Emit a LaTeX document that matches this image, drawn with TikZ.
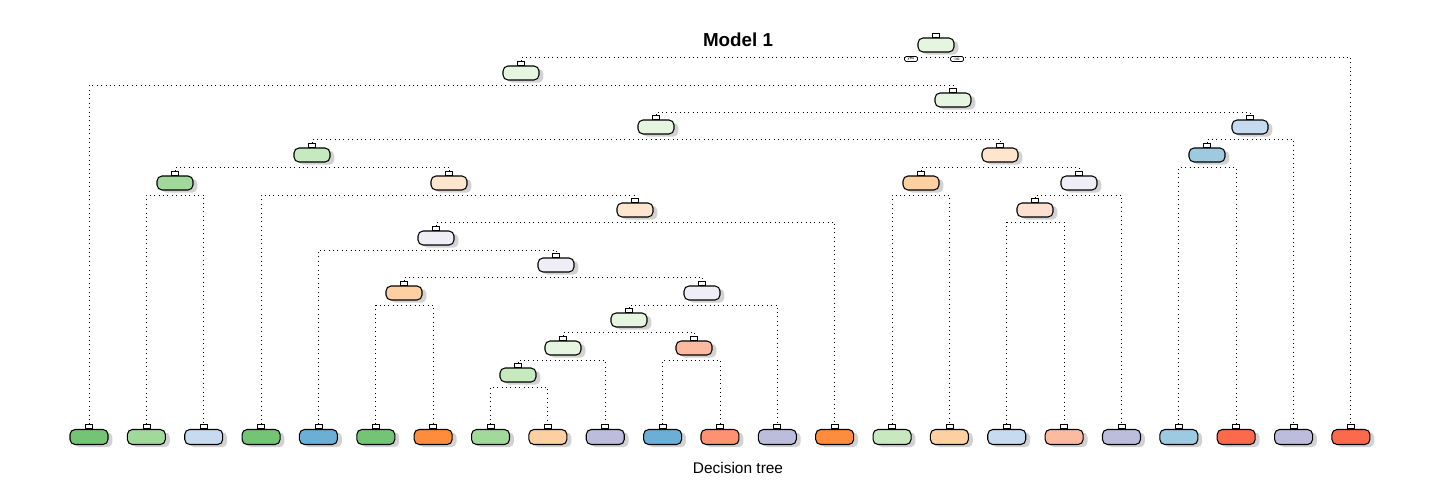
\documentclass[tikz,border=0pt]{standalone}
\usepackage{fontspec}
\setmainfont{Liberation Sans}
\usetikzlibrary{positioning,shadows}

\definecolor{grnA}{HTML}{74C476}
\definecolor{grnB}{HTML}{A1D99B}
\definecolor{grnC}{HTML}{C7E9C0}
\definecolor{grnD}{HTML}{E5F5E0}
\definecolor{bluA}{HTML}{6BAED6}
\definecolor{bluB}{HTML}{9ECAE1}
\definecolor{bluC}{HTML}{C6DBEF}
\definecolor{orgA}{HTML}{FD8D3C}
\definecolor{orgB}{HTML}{FDD0A2}
\definecolor{orgD}{HTML}{FEE6CE}
\definecolor{redA}{HTML}{FB6A4A}
\definecolor{redB}{HTML}{FC9272}
\definecolor{redC}{HTML}{FCBBA1}
\definecolor{redD}{HTML}{FEE0D2}
\definecolor{purA}{HTML}{BCBDDC}
\definecolor{purD}{HTML}{EFEDF5}

\tikzset{
  treebox/.style={draw, line width=0.6pt, rounded corners=0.1cm,
    minimum width=0.72cm, minimum height=0.28cm, inner sep=0pt,
    drop shadow={shadow xshift=2.5pt, shadow yshift=-1.5pt, fill=black!35}},
  leafbox/.style={treebox, minimum width=0.76cm, minimum height=0.3cm},
  tagbox/.style={draw, fill=white, line width=0.4pt,
    minimum width=0.14cm, minimum height=0.08cm, inner sep=0pt},
  link/.style={dotted, line width=0.5pt},
  answer/.style={draw, fill=white, line width=0.4pt, rounded corners=0.03cm,
    minimum width=0.26cm, minimum height=0.1cm, inner sep=0pt,
    font=\fontsize{2.5}{3}\selectfont}
}

% node with its number tag and the point where its split line runs
\newcommand{\splitnode}[5]{%
  \node[#5, fill=#4] (#1) at (#2,#3) {};
  \node[tagbox, above=0pt of #1] (#1t) {};
  \coordinate (#1s) at ([yshift=-0.24cm]#1.center);
}

\begin{document}
\begin{tikzpicture}[x=0.02cm,y=-0.02cm]
\useasboundingbox (0,0) rectangle (1440,480);

\node[font=\bfseries\fontsize{10.7}{12}\selectfont] (title) at (738,40) {Model 1};
\node[font=\fontsize{8.8}{10}\selectfont] (caption) at (738,468) {Decision tree};

% inner nodes
\splitnode{root}{936}{45}{grnD}{treebox}
\splitnode{A}{521}{73}{grnD}{treebox}
\splitnode{B}{953}{100}{grnD}{treebox}
\splitnode{C}{656}{127}{grnD}{treebox}
\splitnode{D}{1250}{127}{bluC}{treebox}
\splitnode{E}{312}{155}{grnC}{treebox}
\splitnode{F}{1000}{155}{orgD}{treebox}
\splitnode{G}{1207}{155}{bluB}{treebox}
\splitnode{H}{175}{183}{grnB}{treebox}
\splitnode{I}{449}{183}{orgD}{treebox}
\splitnode{J}{921}{183}{orgB}{treebox}
\splitnode{K}{1079}{183}{purD}{treebox}
\splitnode{L}{635}{210}{orgD}{treebox}
\splitnode{M}{1035}{210}{redD}{treebox}
\splitnode{N}{436}{238}{purD}{treebox}
\splitnode{O}{556}{265}{purD}{treebox}
\splitnode{P}{404}{293}{orgB}{treebox}
\splitnode{Q}{702}{293}{purD}{treebox}
\splitnode{R}{629}{320}{grnD}{treebox}
\splitnode{S}{563}{348}{grnD}{treebox}
\splitnode{T}{694}{348}{redC}{treebox}
\splitnode{U}{518}{375}{grnC}{treebox}

% leaves
\foreach \c [count=\i] in {grnA,grnB,bluC,grnA,bluA,grnA,orgA,grnB,orgB,purA,bluA,redB,
                           purA,orgA,grnC,orgB,bluC,redC,purA,bluB,redA,purA,redA}{
  \pgfmathsetmacro\lx{89+(\i-1)*57.36}
  \splitnode{lf\i}{\lx}{437}{\c}{leafbox}
}

% splits
\draw[link] (At.north) |- (roots) -| (lf23t.north);
\draw[link] (lf1t.north) |- (As) -| (Bt.north);
\draw[link] (Ct.north) |- (Bs) -| (Dt.north);
\draw[link] (Et.north) |- (Cs) -| (Ft.north);
\draw[link] (Gt.north) |- (Ds) -| (lf22t.north);
\draw[link] (Ht.north) |- (Es) -| (It.north);
\draw[link] (Jt.north) |- (Fs) -| (Kt.north);
\draw[link] (lf20t.north) |- (Gs) -| (lf21t.north);
\draw[link] (lf2t.north) |- (Hs) -| (lf3t.north);
\draw[link] (lf4t.north) |- (Is) -| (Lt.north);
\draw[link] (lf15t.north) |- (Js) -| (lf16t.north);
\draw[link] (Mt.north) |- (Ks) -| (lf19t.north);
\draw[link] (Nt.north) |- (Ls) -| (lf14t.north);
\draw[link] (lf17t.north) |- (Ms) -| (lf18t.north);
\draw[link] (lf5t.north) |- (Ns) -| (Ot.north);
\draw[link] (Pt.north) |- (Os) -| (Qt.north);
\draw[link] (lf6t.north) |- (Ps) -| (lf7t.north);
\draw[link] (Rt.north) |- (Qs) -| (lf13t.north);
\draw[link] (St.north) |- (Rs) -| (Tt.north);
\draw[link] (Ut.north) |- (Ss) -| (lf10t.north);
\draw[link] (lf11t.north) |- (Ts) -| (lf12t.north);
\draw[link] (lf8t.north) |- (Us) -| (lf9t.north);

\node[answer] (yes) at (911,59) {yes};
\node[answer] (no) at (957,59) {no};
\end{tikzpicture}
\end{document}
